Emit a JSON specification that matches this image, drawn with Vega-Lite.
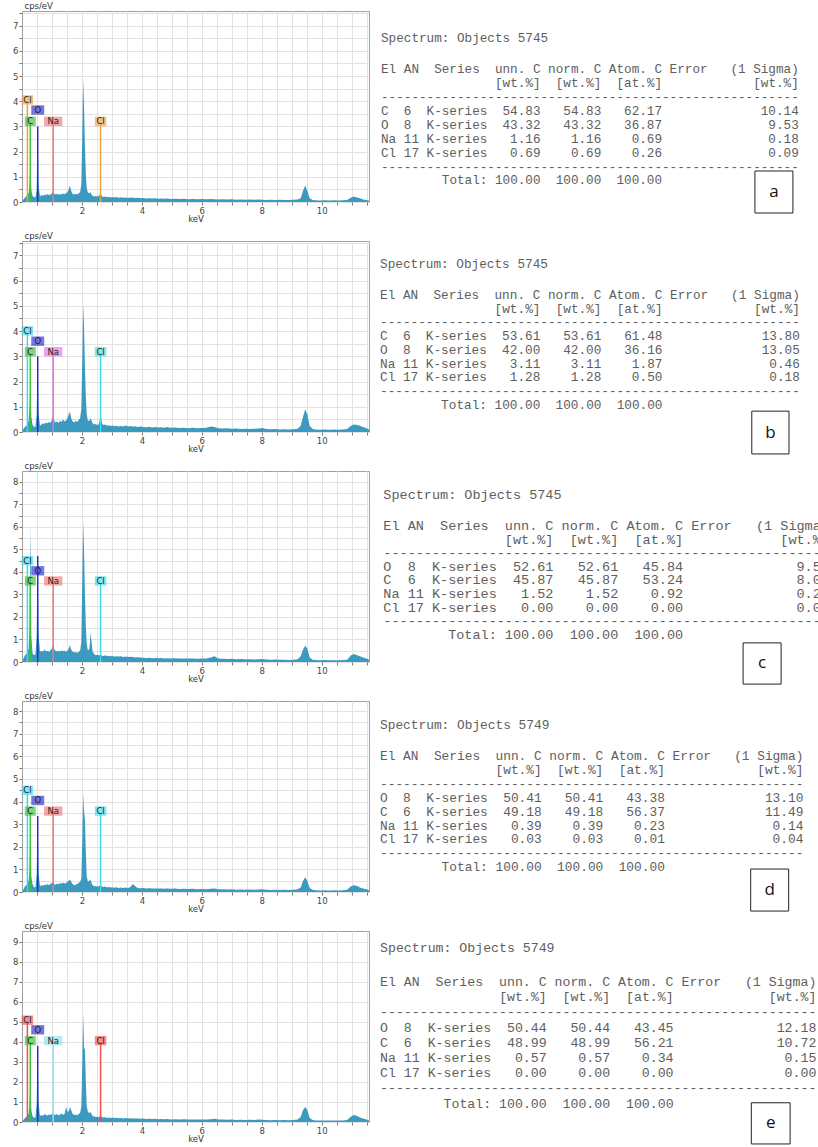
{
"$schema": "https://vega.github.io/schema/vega-lite/v6.json",
"background": "white",
"padding": {"left": 12, "top": 0, "right": 0, "bottom": 0},
"config": {"view": {"stroke": null}, "axis": {"labelOverlap": false}},
"bounds": "flush",
"spacing": 39,
"resolve": {"scale": {"color": "independent", "shape": "independent"}},
"datasets": {
"spec": [
{"k":0.02,"a":0.05,"b":0.05,"c":0.05,"d":0.05,"e":0.05},
{"k":0.06,"a":0.12,"b":0.15,"c":0.2,"d":0.15,"e":0.12},
{"k":0.10,"a":0.18,"b":0.2,"c":0.3,"d":0.25,"e":0.2},
{"k":0.14,"a":0.22,"b":0.25,"c":0.35,"d":0.3,"e":0.25},
{"k":0.18,"a":0.3,"b":0.3,"c":0.4,"d":0.35,"e":0.3},
{"k":0.22,"a":0.35,"b":0.45,"c":0.6,"d":0.5,"e":0.4},
{"k":0.25,"a":0.6,"b":0.9,"c":1.5,"d":0.9,"e":0.8},
{"k":0.28,"a":1.6,"b":2.0,"c":6.1,"d":3.2,"e":2.6},
{"k":0.31,"a":0.5,"b":0.6,"c":1.2,"d":0.7,"e":0.6},
{"k":0.35,"a":0.25,"b":0.3,"c":0.4,"d":0.35,"e":0.3},
{"k":0.40,"a":0.18,"b":0.2,"c":0.3,"d":0.2,"e":0.2},
{"k":0.45,"a":0.2,"b":0.22,"c":0.35,"d":0.22,"e":0.25},
{"k":0.49,"a":0.5,"b":0.7,"c":1.2,"d":0.8,"e":0.9},
{"k":0.52,"a":2.9,"b":3.0,"c":4.7,"d":3.35,"e":3.8},
{"k":0.55,"a":0.7,"b":0.8,"c":1.3,"d":0.9,"e":1.0},
{"k":0.60,"a":0.22,"b":0.25,"c":0.45,"d":0.25,"e":0.3},
{"k":0.65,"a":0.28,"b":0.3,"c":0.5,"d":0.3,"e":0.35},
{"k":0.70,"a":0.25,"b":0.35,"c":0.45,"d":0.28,"e":0.3},
{"k":0.75,"a":0.3,"b":0.32,"c":0.55,"d":0.33,"e":0.4},
{"k":0.80,"a":0.27,"b":0.38,"c":0.48,"d":0.3,"e":0.35},
{"k":0.85,"a":0.32,"b":0.35,"c":0.5,"d":0.35,"e":0.32},
{"k":0.90,"a":0.28,"b":0.4,"c":0.45,"d":0.3,"e":0.38},
{"k":0.95,"a":0.3,"b":0.36,"c":0.52,"d":0.36,"e":0.35},
{"k":1.00,"a":0.35,"b":0.5,"c":0.6,"d":0.4,"e":0.4},
{"k":1.04,"a":0.45,"b":0.65,"c":0.8,"d":0.45,"e":0.45},
{"k":1.08,"a":0.33,"b":0.45,"c":0.55,"d":0.35,"e":0.38},
{"k":1.12,"a":0.3,"b":0.38,"c":0.5,"d":0.32,"e":0.35},
{"k":1.17,"a":0.33,"b":0.42,"c":0.47,"d":0.38,"e":0.4},
{"k":1.22,"a":0.29,"b":0.36,"c":0.5,"d":0.34,"e":0.33},
{"k":1.27,"a":0.32,"b":0.45,"c":0.46,"d":0.4,"e":0.38},
{"k":1.32,"a":0.3,"b":0.4,"c":0.52,"d":0.36,"e":0.42},
{"k":1.37,"a":0.34,"b":0.5,"c":0.48,"d":0.42,"e":0.36},
{"k":1.42,"a":0.31,"b":0.42,"c":0.5,"d":0.38,"e":0.4},
{"k":1.47,"a":0.35,"b":0.46,"c":0.45,"d":0.4,"e":0.75},
{"k":1.52,"a":0.4,"b":0.55,"c":0.5,"d":0.45,"e":0.5},
{"k":1.56,"a":0.5,"b":0.7,"c":0.6,"d":0.5,"e":0.55},
{"k":1.60,"a":0.65,"b":0.8,"c":0.75,"d":0.55,"e":0.75},
{"k":1.64,"a":0.45,"b":0.55,"c":0.55,"d":0.45,"e":0.6},
{"k":1.69,"a":0.32,"b":0.42,"c":0.45,"d":0.35,"e":0.4},
{"k":1.74,"a":0.3,"b":0.38,"c":0.42,"d":0.3,"e":0.35},
{"k":1.79,"a":0.33,"b":0.45,"c":0.44,"d":0.33,"e":0.38},
{"k":1.84,"a":0.3,"b":0.4,"c":0.4,"d":0.35,"e":0.33},
{"k":1.89,"a":0.34,"b":0.48,"c":0.46,"d":0.4,"e":0.4},
{"k":1.94,"a":0.4,"b":0.55,"c":0.5,"d":0.45,"e":0.45},
{"k":1.98,"a":0.7,"b":0.9,"c":0.9,"d":0.6,"e":0.8},
{"k":2.01,"a":2.6,"b":2.8,"c":3.5,"d":2.2,"e":2.8},
{"k":2.04,"a":4.9,"b":5.05,"c":6.25,"d":4.35,"e":5.45},
{"k":2.07,"a":3.8,"b":4.2,"c":5.0,"d":3.6,"e":3.7},
{"k":2.10,"a":2.2,"b":2.6,"c":3.0,"d":3.2,"e":3.6},
{"k":2.13,"a":1.1,"b":1.4,"c":1.6,"d":1.8,"e":2.0},
{"k":2.16,"a":0.55,"b":0.7,"c":0.8,"d":0.7,"e":0.8},
{"k":2.20,"a":0.38,"b":0.45,"c":0.5,"d":0.45,"e":0.5},
{"k":2.25,"a":0.35,"b":0.45,"c":0.6,"d":0.5,"e":0.45},
{"k":2.29,"a":0.4,"b":0.55,"c":1.3,"d":0.55,"e":0.5},
{"k":2.32,"a":0.3,"b":0.45,"c":0.9,"d":0.4,"e":0.4},
{"k":2.36,"a":0.25,"b":0.35,"c":0.45,"d":0.3,"e":0.3},
{"k":2.41,"a":0.22,"b":0.3,"c":0.35,"d":0.25,"e":0.28},
{"k":2.46,"a":0.24,"b":0.32,"c":0.3,"d":0.27,"e":0.25},
{"k":2.51,"a":0.22,"b":0.28,"c":0.32,"d":0.24,"e":0.26},
{"k":2.56,"a":0.24,"b":0.3,"c":0.3,"d":0.25,"e":0.24},
{"k":2.60,"a":0.3,"b":0.5,"c":0.3,"d":0.28,"e":0.3},
{"k":2.63,"a":0.32,"b":0.65,"c":0.35,"d":0.3,"e":0.32},
{"k":2.67,"a":0.24,"b":0.35,"c":0.28,"d":0.24,"e":0.25},
{"k":2.72,"a":0.2,"b":0.28,"c":0.27,"d":0.22,"e":0.22},
{"k":2.78,"a":0.22,"b":0.3,"c":0.3,"d":0.24,"e":0.24},
{"k":2.84,"a":0.19,"b":0.25,"c":0.26,"d":0.2,"e":0.2},
{"k":2.90,"a":0.21,"b":0.27,"c":0.28,"d":0.22,"e":0.23},
{"k":2.96,"a":0.18,"b":0.24,"c":0.25,"d":0.2,"e":0.2},
{"k":3.02,"a":0.2,"b":0.26,"c":0.27,"d":0.21,"e":0.22},
{"k":3.08,"a":0.18,"b":0.23,"c":0.24,"d":0.19,"e":0.2},
{"k":3.15,"a":0.2,"b":0.25,"c":0.26,"d":0.21,"e":0.21},
{"k":3.22,"a":0.17,"b":0.22,"c":0.24,"d":0.18,"e":0.19},
{"k":3.30,"a":0.19,"b":0.24,"c":0.25,"d":0.2,"e":0.2},
{"k":3.38,"a":0.17,"b":0.22,"c":0.22,"d":0.18,"e":0.18},
{"k":3.46,"a":0.18,"b":0.26,"c":0.24,"d":0.2,"e":0.2},
{"k":3.54,"a":0.16,"b":0.22,"c":0.22,"d":0.18,"e":0.17},
{"k":3.62,"a":0.18,"b":0.24,"c":0.23,"d":0.22,"e":0.19},
{"k":3.70,"a":0.17,"b":0.21,"c":0.22,"d":0.35,"e":0.18},
{"k":3.78,"a":0.16,"b":0.23,"c":0.2,"d":0.25,"e":0.17},
{"k":3.86,"a":0.17,"b":0.2,"c":0.21,"d":0.18,"e":0.18},
{"k":3.95,"a":0.15,"b":0.22,"c":0.2,"d":0.17,"e":0.16},
{"k":4.05,"a":0.16,"b":0.2,"c":0.19,"d":0.18,"e":0.17},
{"k":4.15,"a":0.14,"b":0.19,"c":0.18,"d":0.16,"e":0.15},
{"k":4.25,"a":0.15,"b":0.21,"c":0.19,"d":0.17,"e":0.16},
{"k":4.35,"a":0.14,"b":0.18,"c":0.17,"d":0.15,"e":0.15},
{"k":4.45,"a":0.15,"b":0.2,"c":0.18,"d":0.16,"e":0.16},
{"k":4.55,"a":0.13,"b":0.18,"c":0.17,"d":0.15,"e":0.14},
{"k":4.65,"a":0.14,"b":0.19,"c":0.18,"d":0.16,"e":0.15},
{"k":4.75,"a":0.13,"b":0.17,"c":0.16,"d":0.14,"e":0.14},
{"k":4.85,"a":0.14,"b":0.2,"c":0.17,"d":0.15,"e":0.15},
{"k":4.95,"a":0.12,"b":0.17,"c":0.16,"d":0.14,"e":0.13},
{"k":5.10,"a":0.13,"b":0.18,"c":0.17,"d":0.15,"e":0.14},
{"k":5.25,"a":0.12,"b":0.16,"c":0.15,"d":0.13,"e":0.13},
{"k":5.40,"a":0.13,"b":0.17,"c":0.16,"d":0.14,"e":0.14},
{"k":5.55,"a":0.11,"b":0.15,"c":0.15,"d":0.13,"e":0.12},
{"k":5.70,"a":0.12,"b":0.17,"c":0.16,"d":0.14,"e":0.13},
{"k":5.85,"a":0.11,"b":0.15,"c":0.14,"d":0.12,"e":0.12},
{"k":6.00,"a":0.12,"b":0.16,"c":0.15,"d":0.13,"e":0.13},
{"k":6.15,"a":0.11,"b":0.17,"c":0.16,"d":0.12,"e":0.12},
{"k":6.30,"a":0.12,"b":0.22,"c":0.2,"d":0.14,"e":0.14},
{"k":6.42,"a":0.11,"b":0.2,"c":0.25,"d":0.15,"e":0.16},
{"k":6.55,"a":0.1,"b":0.15,"c":0.16,"d":0.12,"e":0.12},
{"k":6.70,"a":0.11,"b":0.14,"c":0.14,"d":0.12,"e":0.12},
{"k":6.85,"a":0.1,"b":0.15,"c":0.13,"d":0.11,"e":0.11},
{"k":7.00,"a":0.11,"b":0.13,"c":0.14,"d":0.12,"e":0.12},
{"k":7.15,"a":0.09,"b":0.14,"c":0.12,"d":0.1,"e":0.1},
{"k":7.30,"a":0.1,"b":0.12,"c":0.13,"d":0.11,"e":0.11},
{"k":7.45,"a":0.09,"b":0.13,"c":0.12,"d":0.1,"e":0.1},
{"k":7.60,"a":0.1,"b":0.12,"c":0.12,"d":0.11,"e":0.11},
{"k":7.75,"a":0.09,"b":0.13,"c":0.11,"d":0.1,"e":0.1},
{"k":7.90,"a":0.1,"b":0.14,"c":0.12,"d":0.11,"e":0.12},
{"k":8.02,"a":0.09,"b":0.16,"c":0.13,"d":0.12,"e":0.11},
{"k":8.15,"a":0.08,"b":0.12,"c":0.11,"d":0.1,"e":0.1},
{"k":8.30,"a":0.09,"b":0.11,"c":0.1,"d":0.09,"e":0.09},
{"k":8.45,"a":0.08,"b":0.12,"c":0.11,"d":0.1,"e":0.1},
{"k":8.60,"a":0.09,"b":0.1,"c":0.1,"d":0.09,"e":0.09},
{"k":8.75,"a":0.08,"b":0.11,"c":0.1,"d":0.1,"e":0.1},
{"k":8.90,"a":0.08,"b":0.1,"c":0.09,"d":0.09,"e":0.09},
{"k":9.05,"a":0.09,"b":0.11,"c":0.1,"d":0.1,"e":0.1},
{"k":9.20,"a":0.1,"b":0.13,"c":0.12,"d":0.12,"e":0.12},
{"k":9.30,"a":0.15,"b":0.25,"c":0.25,"d":0.2,"e":0.25},
{"k":9.38,"a":0.45,"b":0.6,"c":0.55,"d":0.5,"e":0.6},
{"k":9.45,"a":0.65,"b":0.9,"c":0.72,"d":0.65,"e":0.75},
{"k":9.52,"a":0.45,"b":0.7,"c":0.6,"d":0.5,"e":0.6},
{"k":9.60,"a":0.15,"b":0.25,"c":0.2,"d":0.18,"e":0.2},
{"k":9.70,"a":0.08,"b":0.12,"c":0.1,"d":0.1,"e":0.1},
{"k":9.80,"a":0.07,"b":0.1,"c":0.09,"d":0.08,"e":0.08},
{"k":9.95,"a":0.06,"b":0.09,"c":0.08,"d":0.07,"e":0.07},
{"k":10.10,"a":0.07,"b":0.1,"c":0.09,"d":0.08,"e":0.08},
{"k":10.25,"a":0.06,"b":0.09,"c":0.08,"d":0.07,"e":0.07},
{"k":10.40,"a":0.07,"b":0.1,"c":0.08,"d":0.08,"e":0.08},
{"k":10.55,"a":0.06,"b":0.09,"c":0.08,"d":0.07,"e":0.07},
{"k":10.70,"a":0.07,"b":0.1,"c":0.09,"d":0.08,"e":0.08},
{"k":10.85,"a":0.08,"b":0.12,"c":0.1,"d":0.1,"e":0.1},
{"k":10.98,"a":0.18,"b":0.25,"c":0.3,"d":0.25,"e":0.28},
{"k":11.08,"a":0.22,"b":0.3,"c":0.35,"d":0.3,"e":0.35},
{"k":11.18,"a":0.18,"b":0.28,"c":0.3,"d":0.27,"e":0.3},
{"k":11.28,"a":0.15,"b":0.25,"c":0.25,"d":0.2,"e":0.22},
{"k":11.38,"a":0.1,"b":0.2,"c":0.2,"d":0.15,"e":0.18},
{"k":11.50,"a":0.08,"b":0.15,"c":0.15,"d":0.12,"e":0.12},
{"k":11.58,"a":0.05,"b":0.1,"c":0.1,"d":0.08,"e":0.08}
],
"marks": [
{"p":"a","el":"Cl","k":0.18,"top":3.95,"ly":4.05},
{"p":"a","el":"C","k":0.277,"top":3.1,"ly":3.2},
{"p":"a","el":"O","k":0.525,"top":3.0,"ly":3.65},
{"p":"a","el":"Na","k":1.041,"top":3.1,"ly":3.2},
{"p":"a","el":"Cl","k":2.622,"top":3.1,"ly":3.2},
{"p":"b","el":"Cl","k":0.18,"top":3.9,"ly":4.01},
{"p":"b","el":"C","k":0.277,"top":3.08,"ly":3.18},
{"p":"b","el":"O","k":0.525,"top":3.0,"ly":3.6},
{"p":"b","el":"Na","k":1.041,"top":3.08,"ly":3.18},
{"p":"b","el":"Cl","k":2.622,"top":3.08,"ly":3.18},
{"p":"c","el":"Cl","k":0.18,"top":4.4,"ly":4.5},
{"p":"c","el":"C","k":0.277,"top":3.5,"ly":3.6},
{"p":"c","el":"O","k":0.525,"top":4.7,"ly":4.05},
{"p":"c","el":"Na","k":1.041,"top":3.5,"ly":3.6},
{"p":"c","el":"Cl","k":2.622,"top":3.5,"ly":3.6},
{"p":"d","el":"Cl","k":0.18,"top":4.4,"ly":4.5},
{"p":"d","el":"C","k":0.277,"top":3.48,"ly":3.58},
{"p":"d","el":"O","k":0.525,"top":3.36,"ly":4.05},
{"p":"d","el":"Na","k":1.041,"top":3.48,"ly":3.58},
{"p":"d","el":"Cl","k":2.622,"top":3.48,"ly":3.58},
{"p":"e","el":"Cl","k":0.18,"top":5.0,"ly":5.08},
{"p":"e","el":"C","k":0.277,"top":3.96,"ly":4.06},
{"p":"e","el":"O","k":0.525,"top":3.8,"ly":4.6},
{"p":"e","el":"Na","k":1.041,"top":3.96,"ly":4.06},
{"p":"e","el":"Cl","k":2.622,"top":3.96,"ly":4.06}
],
"hdr": [
{"line":2.25,"col":0,"s":"El AN  Series  unn. C norm. C Atom. C Error   (1 Sigma)"},
{"line":3.25,"col":15,"s":"[wt.%]  [wt.%]  [at.%]            [wt.%]"},
{"line":4.25,"col":0,"s":"-------------------------------------------------------"},
{"line":9.25,"col":0,"s":"-------------------------------------------------------"},
{"line":10.25,"col":8,"s":"Total: 100.00  100.00  100.00"}
],
"tab": [
{"p":"a","line":0,"s":"Spectrum: Objects 5745"},
{"p":"a","line":5.25,"el":"C","an":"6","v1":"54.83","v2":"54.83","v3":"62.17","err":"10.14"},
{"p":"a","line":6.25,"el":"O","an":"8","v1":"43.32","v2":"43.32","v3":"36.87","err":"9.53"},
{"p":"a","line":7.25,"el":"Na","an":"11","v1":"1.16","v2":"1.16","v3":"0.69","err":"0.18"},
{"p":"a","line":8.25,"el":"Cl","an":"17","v1":"0.69","v2":"0.69","v3":"0.26","err":"0.09"},
{"p":"b","line":0,"s":"Spectrum: Objects 5745"},
{"p":"b","line":5.25,"el":"C","an":"6","v1":"53.61","v2":"53.61","v3":"61.48","err":"13.80"},
{"p":"b","line":6.25,"el":"O","an":"8","v1":"42.00","v2":"42.00","v3":"36.16","err":"13.05"},
{"p":"b","line":7.25,"el":"Na","an":"11","v1":"3.11","v2":"3.11","v3":"1.87","err":"0.46"},
{"p":"b","line":8.25,"el":"Cl","an":"17","v1":"1.28","v2":"1.28","v3":"0.50","err":"0.18"},
{"p":"c","line":0,"s":"Spectrum: Objects 5745"},
{"p":"c","line":5.25,"el":"O","an":"8","v1":"52.61","v2":"52.61","v3":"45.84","err":"9.50"},
{"p":"c","line":6.25,"el":"C","an":"6","v1":"45.87","v2":"45.87","v3":"53.24","err":"8.03"},
{"p":"c","line":7.25,"el":"Na","an":"11","v1":"1.52","v2":"1.52","v3":"0.92","err":"0.20"},
{"p":"c","line":8.25,"el":"Cl","an":"17","v1":"0.00","v2":"0.00","v3":"0.00","err":"0.00"},
{"p":"d","line":0,"s":"Spectrum: Objects 5749"},
{"p":"d","line":5.25,"el":"O","an":"8","v1":"50.41","v2":"50.41","v3":"43.38","err":"13.10"},
{"p":"d","line":6.25,"el":"C","an":"6","v1":"49.18","v2":"49.18","v3":"56.37","err":"11.49"},
{"p":"d","line":7.25,"el":"Na","an":"11","v1":"0.39","v2":"0.39","v3":"0.23","err":"0.14"},
{"p":"d","line":8.25,"el":"Cl","an":"17","v1":"0.03","v2":"0.03","v3":"0.01","err":"0.04"},
{"p":"e","line":0,"s":"Spectrum: Objects 5749"},
{"p":"e","line":5.25,"el":"O","an":"8","v1":"50.44","v2":"50.44","v3":"43.45","err":"12.18"},
{"p":"e","line":6.25,"el":"C","an":"6","v1":"48.99","v2":"48.99","v3":"56.21","err":"10.72"},
{"p":"e","line":7.25,"el":"Na","an":"11","v1":"0.57","v2":"0.57","v3":"0.34","err":"0.15"},
{"p":"e","line":8.25,"el":"Cl","an":"17","v1":"0.00","v2":"0.00","v3":"0.00","err":"0.00"}
],
"box": [
{"p":"a","lab":"a","col":51.7,"line":11.08},
{"p":"b","lab":"b","col":51.1,"line":12.26},
{"p":"c","lab":"c","col":46.75,"line":12.36},
{"p":"d","lab":"d","col":50.6,"line":11.89},
{"p":"e","lab":"e","col":49.2,"line":11.55}
]
},
"vconcat": [
{"width": 347, "height": 191, "view": {"stroke": "#a0a0a0"},
 "resolve": {"scale": {"x": "independent", "y": "independent"}},
 "layer": [
  {"data": {"name": "spec"}, "mark": {"type": "point", "opacity": 0},
   "encoding": {
    "x": {"field": "k", "type": "quantitative", "scale": {"domain": [0, 11.58], "nice": false, "zero": false},
     "axis": {"orient": "bottom", "values": [0.5,1,1.5,2,2.5,3,3.5,4,4.5,5,5.5,6,6.5,7,7.5,8,8.5,9,9.5,10,10.5,11,11.5], "tickCount": 24, "labelExpr": "(datum.value % 2 == 0 && datum.value > 0) ? format(datum.value, 'd') : ''", "labelOverlap": false, "labelFlush": false, "title": "keV", "titleFont": "DejaVu Sans", "titleFontSize": 8.5, "titleFontWeight": "normal", "titleColor": "#333", "titlePadding": 0, "labelFont": "DejaVu Sans", "labelFontSize": 8.5, "labelColor": "#444", "labelPadding": 1, "tickColor": "#777", "tickSize": 3, "domain": false, "grid": true, "gridColor": "#e2e2e2"}},
    "y": {"field": "a", "type": "quantitative", "scale": {"domain": [0, 7.58], "nice": false, "zero": false},
     "axis": {"orient": "left", "values": [0,0.5,1,1.5,2,2.5,3,3.5,4,4.5,5,5.5,6,6.5,7,7.5], "tickCount": 16, "labelExpr": "datum.value % 1 == 0 ? format(datum.value, 'd') : ''", "labelOverlap": false, "labelFlush": false, "title": "cps/eV", "titleAngle": 0, "titleAlign": "left", "titleBaseline": "bottom", "titleX": 2, "titleY": -1, "titleFont": "DejaVu Sans", "titleFontSize": 8.5, "titleFontWeight": "normal", "titleColor": "#333", "labelFont": "DejaVu Sans", "labelFontSize": 8.5, "labelColor": "#444", "labelPadding": 1, "tickColor": "#777", "tickSize": 3, "domain": false, "grid": true, "gridColor": "#e2e2e2"}}
   }},
  {"layer": [
   {"data": {"name": "spec"}, "mark": {"type": "area", "color": "#3b9ac0"},
    "encoding": {
     "x": {"field": "k", "type": "quantitative", "scale": {"domain": [0, 11.58], "nice": false, "zero": false}, "axis": null},
     "y": {"field": "a", "type": "quantitative", "scale": {"domain": [0, 7.58], "nice": false, "zero": false}, "axis": null}}},
   {"data": {"name": "marks"}, "transform": [{"filter": "datum.p == 'a'"}], "mark": {"type": "rule", "strokeWidth": 1.5},
    "encoding": {"x": {"field": "k", "type": "quantitative", "axis": null}, "y": {"field": "top", "type": "quantitative", "axis": null}, "y2": {"datum": 0},
     "color": {"field": "el", "type": "nominal", "scale": {"domain": ["C","O","Na","Cl"], "range": ["#3cc03c","#2b2bd0","#f07878","#f0a040"]}, "legend": null}}},
   {"data": {"name": "marks"}, "transform": [{"filter": "datum.p == 'a'"}], "mark": {"type": "point", "filled": true, "size": 121, "opacity": 0.65},
    "encoding": {"x": {"field": "k", "type": "quantitative", "axis": null}, "y": {"field": "ly", "type": "quantitative", "axis": null},
     "color": {"field": "el", "type": "nominal", "legend": null},
     "shape": {"field": "el", "type": "nominal", "scale": {"domain": ["C","O","Na","Cl"], "range": ["M-1,-0.85H1V0.85H-1Z","M-1.18,-0.85H1.18V0.85H-1.18Z","M-1.66,-0.85H1.66V0.85H-1.66Z","M-1.05,-0.85H1.05V0.85H-1.05Z"]}, "legend": null}}},
   {"data": {"name": "marks"}, "transform": [{"filter": "datum.p == 'a'"}], "mark": {"type": "text", "font": "DejaVu Sans", "fontSize": 8.5, "color": "#222"},
    "encoding": {"x": {"field": "k", "type": "quantitative", "axis": null}, "y": {"field": "ly", "type": "quantitative", "axis": null}, "text": {"field": "el"}}}
  ]},
  {"layer": [
   {"data": {"name": "hdr"}, "transform": [{"calculate": "replace(datum.s, regexp(' ', 'g'), '\u00a0')", "as": "t"}],
    "mark": {"type": "text", "font": "Liberation Mono", "fontSize": 12.67, "align": "left", "baseline": "middle", "color": "#5e5e5e"},
    "encoding": {"x": {"field": "col", "type": "quantitative", "scale": {"domain": [-47.24, -1.58], "nice": false, "zero": false}, "axis": null},
     "y": {"field": "line", "type": "quantitative", "scale": {"domain": [-1.94, 11.8], "reverse": true, "nice": false, "zero": false}, "axis": null},
     "text": {"field": "t"}}},
   {"data": {"name": "tab"}, "transform": [{"filter": "datum.p == 'a'"}, {"calculate": "replace(datum.s ? datum.s : pad(datum.el,3) + pad(datum.an,3) + 'K-series' + pad(datum.v1,7,' ','left') + pad(datum.v2,8,' ','left') + pad(datum.v3,8,' ','left') + pad(datum.err,18,' ','left'), regexp(' ', 'g'), '\u00a0')", "as": "t"}],
    "mark": {"type": "text", "font": "Liberation Mono", "fontSize": 12.67, "align": "left", "baseline": "middle", "color": "#5e5e5e"},
    "encoding": {"x": {"datum": 0, "type": "quantitative", "axis": null}, "y": {"field": "line", "type": "quantitative", "axis": null}, "text": {"field": "t"}}},
   {"data": {"name": "box"}, "transform": [{"filter": "datum.p == 'a'"}],
    "mark": {"type": "point", "shape": "M-0.95,-1.05H0.95V1.05H-0.95Z", "size": 1600, "filled": true, "fill": "white", "stroke": "#222", "strokeWidth": 1, "opacity": 1},
    "encoding": {"x": {"field": "col", "type": "quantitative", "axis": null}, "y": {"field": "line", "type": "quantitative", "axis": null}}},
   {"data": {"name": "box"}, "transform": [{"filter": "datum.p == 'a'"}],
    "mark": {"type": "text", "font": "Open Sans", "fontSize": 17, "color": "#111", "baseline": "middle", "align": "center"},
    "encoding": {"x": {"field": "col", "type": "quantitative", "axis": null}, "y": {"field": "line", "type": "quantitative", "axis": null}, "text": {"field": "lab"}}}
  ]}
 ]},
{"width": 347, "height": 191, "view": {"stroke": "#a0a0a0"},
 "resolve": {"scale": {"x": "independent", "y": "independent"}},
 "layer": [
  {"data": {"name": "spec"}, "mark": {"type": "point", "opacity": 0},
   "encoding": {
    "x": {"field": "k", "type": "quantitative", "scale": {"domain": [0, 11.58], "nice": false, "zero": false},
     "axis": {"orient": "bottom", "values": [0.5,1,1.5,2,2.5,3,3.5,4,4.5,5,5.5,6,6.5,7,7.5,8,8.5,9,9.5,10,10.5,11,11.5], "tickCount": 24, "labelExpr": "(datum.value % 2 == 0 && datum.value > 0) ? format(datum.value, 'd') : ''", "labelOverlap": false, "labelFlush": false, "title": "keV", "titleFont": "DejaVu Sans", "titleFontSize": 8.5, "titleFontWeight": "normal", "titleColor": "#333", "titlePadding": 0, "labelFont": "DejaVu Sans", "labelFontSize": 8.5, "labelColor": "#444", "labelPadding": 1, "tickColor": "#777", "tickSize": 3, "domain": false, "grid": true, "gridColor": "#e2e2e2"}},
    "y": {"field": "b", "type": "quantitative", "scale": {"domain": [0, 7.57], "nice": false, "zero": false},
     "axis": {"orient": "left", "values": [0,0.5,1,1.5,2,2.5,3,3.5,4,4.5,5,5.5,6,6.5,7,7.5], "tickCount": 16, "labelExpr": "datum.value % 1 == 0 ? format(datum.value, 'd') : ''", "labelOverlap": false, "labelFlush": false, "title": "cps/eV", "titleAngle": 0, "titleAlign": "left", "titleBaseline": "bottom", "titleX": 2, "titleY": -1, "titleFont": "DejaVu Sans", "titleFontSize": 8.5, "titleFontWeight": "normal", "titleColor": "#333", "labelFont": "DejaVu Sans", "labelFontSize": 8.5, "labelColor": "#444", "labelPadding": 1, "tickColor": "#777", "tickSize": 3, "domain": false, "grid": true, "gridColor": "#e2e2e2"}}
   }},
  {"layer": [
   {"data": {"name": "spec"}, "mark": {"type": "area", "color": "#3b9ac0"},
    "encoding": {
     "x": {"field": "k", "type": "quantitative", "scale": {"domain": [0, 11.58], "nice": false, "zero": false}, "axis": null},
     "y": {"field": "b", "type": "quantitative", "scale": {"domain": [0, 7.57], "nice": false, "zero": false}, "axis": null}}},
   {"data": {"name": "marks"}, "transform": [{"filter": "datum.p == 'b'"}], "mark": {"type": "rule", "strokeWidth": 1.5},
    "encoding": {"x": {"field": "k", "type": "quantitative", "axis": null}, "y": {"field": "top", "type": "quantitative", "axis": null}, "y2": {"datum": 0},
     "color": {"field": "el", "type": "nominal", "scale": {"domain": ["C","O","Na","Cl"], "range": ["#3cc03c","#2b2bd0","#e070e0","#40d8e8"]}, "legend": null}}},
   {"data": {"name": "marks"}, "transform": [{"filter": "datum.p == 'b'"}], "mark": {"type": "point", "filled": true, "size": 121, "opacity": 0.65},
    "encoding": {"x": {"field": "k", "type": "quantitative", "axis": null}, "y": {"field": "ly", "type": "quantitative", "axis": null},
     "color": {"field": "el", "type": "nominal", "legend": null},
     "shape": {"field": "el", "type": "nominal", "scale": {"domain": ["C","O","Na","Cl"], "range": ["M-1,-0.85H1V0.85H-1Z","M-1.18,-0.85H1.18V0.85H-1.18Z","M-1.66,-0.85H1.66V0.85H-1.66Z","M-1.05,-0.85H1.05V0.85H-1.05Z"]}, "legend": null}}},
   {"data": {"name": "marks"}, "transform": [{"filter": "datum.p == 'b'"}], "mark": {"type": "text", "font": "DejaVu Sans", "fontSize": 8.5, "color": "#222"},
    "encoding": {"x": {"field": "k", "type": "quantitative", "axis": null}, "y": {"field": "ly", "type": "quantitative", "axis": null}, "text": {"field": "el"}}}
  ]},
  {"layer": [
   {"data": {"name": "hdr"}, "transform": [{"calculate": "replace(datum.s, regexp(' ', 'g'), '\u00a0')", "as": "t"}],
    "mark": {"type": "text", "font": "Liberation Mono", "fontSize": 12.73, "align": "left", "baseline": "middle", "color": "#5e5e5e"},
    "encoding": {"x": {"field": "col", "type": "quantitative", "scale": {"domain": [-46.86, -1.44], "nice": false, "zero": false}, "axis": null},
     "y": {"field": "line", "type": "quantitative", "scale": {"domain": [-1.67, 12.22], "reverse": true, "nice": false, "zero": false}, "axis": null},
     "text": {"field": "t"}}},
   {"data": {"name": "tab"}, "transform": [{"filter": "datum.p == 'b'"}, {"calculate": "replace(datum.s ? datum.s : pad(datum.el,3) + pad(datum.an,3) + 'K-series' + pad(datum.v1,7,' ','left') + pad(datum.v2,8,' ','left') + pad(datum.v3,8,' ','left') + pad(datum.err,18,' ','left'), regexp(' ', 'g'), '\u00a0')", "as": "t"}],
    "mark": {"type": "text", "font": "Liberation Mono", "fontSize": 12.73, "align": "left", "baseline": "middle", "color": "#5e5e5e"},
    "encoding": {"x": {"datum": 0, "type": "quantitative", "axis": null}, "y": {"field": "line", "type": "quantitative", "axis": null}, "text": {"field": "t"}}},
   {"data": {"name": "box"}, "transform": [{"filter": "datum.p == 'b'"}],
    "mark": {"type": "point", "shape": "M-0.93,-1.07H0.93V1.07H-0.93Z", "size": 1600, "filled": true, "fill": "white", "stroke": "#222", "strokeWidth": 1, "opacity": 1},
    "encoding": {"x": {"field": "col", "type": "quantitative", "axis": null}, "y": {"field": "line", "type": "quantitative", "axis": null}}},
   {"data": {"name": "box"}, "transform": [{"filter": "datum.p == 'b'"}],
    "mark": {"type": "text", "font": "Open Sans", "fontSize": 17, "color": "#111", "baseline": "middle", "align": "center"},
    "encoding": {"x": {"field": "col", "type": "quantitative", "axis": null}, "y": {"field": "line", "type": "quantitative", "axis": null}, "text": {"field": "lab"}}}
  ]}
 ]},
{"width": 347, "height": 191, "view": {"stroke": "#a0a0a0"},
 "resolve": {"scale": {"x": "independent", "y": "independent"}},
 "layer": [
  {"data": {"name": "spec"}, "mark": {"type": "point", "opacity": 0},
   "encoding": {
    "x": {"field": "k", "type": "quantitative", "scale": {"domain": [0, 11.58], "nice": false, "zero": false},
     "axis": {"orient": "bottom", "values": [0.5,1,1.5,2,2.5,3,3.5,4,4.5,5,5.5,6,6.5,7,7.5,8,8.5,9,9.5,10,10.5,11,11.5], "tickCount": 24, "labelExpr": "(datum.value % 2 == 0 && datum.value > 0) ? format(datum.value, 'd') : ''", "labelOverlap": false, "labelFlush": false, "title": "keV", "titleFont": "DejaVu Sans", "titleFontSize": 8.5, "titleFontWeight": "normal", "titleColor": "#333", "titlePadding": 0, "labelFont": "DejaVu Sans", "labelFontSize": 8.5, "labelColor": "#444", "labelPadding": 1, "tickColor": "#777", "tickSize": 3, "domain": false, "grid": true, "gridColor": "#e2e2e2"}},
    "y": {"field": "c", "type": "quantitative", "scale": {"domain": [0, 8.48], "nice": false, "zero": false},
     "axis": {"orient": "left", "values": [0,0.5,1,1.5,2,2.5,3,3.5,4,4.5,5,5.5,6,6.5,7,7.5,8], "tickCount": 17, "labelExpr": "datum.value % 1 == 0 ? format(datum.value, 'd') : ''", "labelOverlap": false, "labelFlush": false, "title": "cps/eV", "titleAngle": 0, "titleAlign": "left", "titleBaseline": "bottom", "titleX": 2, "titleY": -1, "titleFont": "DejaVu Sans", "titleFontSize": 8.5, "titleFontWeight": "normal", "titleColor": "#333", "labelFont": "DejaVu Sans", "labelFontSize": 8.5, "labelColor": "#444", "labelPadding": 1, "tickColor": "#777", "tickSize": 3, "domain": false, "grid": true, "gridColor": "#e2e2e2"}}
   }},
  {"layer": [
   {"data": {"name": "spec"}, "mark": {"type": "area", "color": "#3b9ac0"},
    "encoding": {
     "x": {"field": "k", "type": "quantitative", "scale": {"domain": [0, 11.58], "nice": false, "zero": false}, "axis": null},
     "y": {"field": "c", "type": "quantitative", "scale": {"domain": [0, 8.48], "nice": false, "zero": false}, "axis": null}}},
   {"data": {"name": "marks"}, "transform": [{"filter": "datum.p == 'c'"}], "mark": {"type": "rule", "strokeWidth": 1.5},
    "encoding": {"x": {"field": "k", "type": "quantitative", "axis": null}, "y": {"field": "top", "type": "quantitative", "axis": null}, "y2": {"datum": 0},
     "color": {"field": "el", "type": "nominal", "scale": {"domain": ["C","O","Na","Cl"], "range": ["#3cc03c","#2b2bd0","#f07878","#40d8e8"]}, "legend": null}}},
   {"data": {"name": "marks"}, "transform": [{"filter": "datum.p == 'c'"}], "mark": {"type": "point", "filled": true, "size": 121, "opacity": 0.65},
    "encoding": {"x": {"field": "k", "type": "quantitative", "axis": null}, "y": {"field": "ly", "type": "quantitative", "axis": null},
     "color": {"field": "el", "type": "nominal", "legend": null},
     "shape": {"field": "el", "type": "nominal", "scale": {"domain": ["C","O","Na","Cl"], "range": ["M-1,-0.85H1V0.85H-1Z","M-1.18,-0.85H1.18V0.85H-1.18Z","M-1.66,-0.85H1.66V0.85H-1.66Z","M-1.05,-0.85H1.05V0.85H-1.05Z"]}, "legend": null}}},
   {"data": {"name": "marks"}, "transform": [{"filter": "datum.p == 'c'"}], "mark": {"type": "text", "font": "DejaVu Sans", "fontSize": 8.5, "color": "#222"},
    "encoding": {"x": {"field": "k", "type": "quantitative", "axis": null}, "y": {"field": "ly", "type": "quantitative", "axis": null}, "text": {"field": "el"}}}
  ]},
  {"layer": [
   {"data": {"name": "hdr"}, "transform": [{"calculate": "replace(datum.s, regexp(' ', 'g'), '\u00a0')", "as": "t"}],
    "mark": {"type": "text", "font": "Liberation Mono", "fontSize": 13.5, "align": "left", "baseline": "middle", "color": "#5e5e5e"},
    "encoding": {"x": {"field": "col", "type": "quantitative", "scale": {"domain": [-44.6, -1.77], "nice": false, "zero": false}, "axis": null},
     "y": {"field": "line", "type": "quantitative", "scale": {"domain": [-1.79, 12.25], "reverse": true, "nice": false, "zero": false}, "axis": null},
     "text": {"field": "t"}}},
   {"data": {"name": "tab"}, "transform": [{"filter": "datum.p == 'c'"}, {"calculate": "replace(datum.s ? datum.s : pad(datum.el,3) + pad(datum.an,3) + 'K-series' + pad(datum.v1,7,' ','left') + pad(datum.v2,8,' ','left') + pad(datum.v3,8,' ','left') + pad(datum.err,18,' ','left'), regexp(' ', 'g'), '\u00a0')", "as": "t"}],
    "mark": {"type": "text", "font": "Liberation Mono", "fontSize": 13.5, "align": "left", "baseline": "middle", "color": "#5e5e5e"},
    "encoding": {"x": {"datum": 0, "type": "quantitative", "axis": null}, "y": {"field": "line", "type": "quantitative", "axis": null}, "text": {"field": "t"}}},
   {"data": {"name": "box"}, "transform": [{"filter": "datum.p == 'c'"}],
    "mark": {"type": "point", "shape": "M-0.95,-1.03H0.95V1.03H-0.95Z", "size": 1600, "filled": true, "fill": "white", "stroke": "#222", "strokeWidth": 1, "opacity": 1},
    "encoding": {"x": {"field": "col", "type": "quantitative", "axis": null}, "y": {"field": "line", "type": "quantitative", "axis": null}}},
   {"data": {"name": "box"}, "transform": [{"filter": "datum.p == 'c'"}],
    "mark": {"type": "text", "font": "Open Sans", "fontSize": 17, "color": "#111", "baseline": "middle", "align": "center"},
    "encoding": {"x": {"field": "col", "type": "quantitative", "axis": null}, "y": {"field": "line", "type": "quantitative", "axis": null}, "text": {"field": "lab"}}}
  ]}
 ]},
{"width": 347, "height": 191, "view": {"stroke": "#a0a0a0"},
 "resolve": {"scale": {"x": "independent", "y": "independent"}},
 "layer": [
  {"data": {"name": "spec"}, "mark": {"type": "point", "opacity": 0},
   "encoding": {
    "x": {"field": "k", "type": "quantitative", "scale": {"domain": [0, 11.58], "nice": false, "zero": false},
     "axis": {"orient": "bottom", "values": [0.5,1,1.5,2,2.5,3,3.5,4,4.5,5,5.5,6,6.5,7,7.5,8,8.5,9,9.5,10,10.5,11,11.5], "tickCount": 24, "labelExpr": "(datum.value % 2 == 0 && datum.value > 0) ? format(datum.value, 'd') : ''", "labelOverlap": false, "labelFlush": false, "title": "keV", "titleFont": "DejaVu Sans", "titleFontSize": 8.5, "titleFontWeight": "normal", "titleColor": "#333", "titlePadding": 0, "labelFont": "DejaVu Sans", "labelFontSize": 8.5, "labelColor": "#444", "labelPadding": 1, "tickColor": "#777", "tickSize": 3, "domain": false, "grid": true, "gridColor": "#e2e2e2"}},
    "y": {"field": "d", "type": "quantitative", "scale": {"domain": [0, 8.45], "nice": false, "zero": false},
     "axis": {"orient": "left", "values": [0,0.5,1,1.5,2,2.5,3,3.5,4,4.5,5,5.5,6,6.5,7,7.5,8], "tickCount": 17, "labelExpr": "datum.value % 1 == 0 ? format(datum.value, 'd') : ''", "labelOverlap": false, "labelFlush": false, "title": "cps/eV", "titleAngle": 0, "titleAlign": "left", "titleBaseline": "bottom", "titleX": 2, "titleY": -1, "titleFont": "DejaVu Sans", "titleFontSize": 8.5, "titleFontWeight": "normal", "titleColor": "#333", "labelFont": "DejaVu Sans", "labelFontSize": 8.5, "labelColor": "#444", "labelPadding": 1, "tickColor": "#777", "tickSize": 3, "domain": false, "grid": true, "gridColor": "#e2e2e2"}}
   }},
  {"layer": [
   {"data": {"name": "spec"}, "mark": {"type": "area", "color": "#3b9ac0"},
    "encoding": {
     "x": {"field": "k", "type": "quantitative", "scale": {"domain": [0, 11.58], "nice": false, "zero": false}, "axis": null},
     "y": {"field": "d", "type": "quantitative", "scale": {"domain": [0, 8.45], "nice": false, "zero": false}, "axis": null}}},
   {"data": {"name": "marks"}, "transform": [{"filter": "datum.p == 'd'"}], "mark": {"type": "rule", "strokeWidth": 1.5},
    "encoding": {"x": {"field": "k", "type": "quantitative", "axis": null}, "y": {"field": "top", "type": "quantitative", "axis": null}, "y2": {"datum": 0},
     "color": {"field": "el", "type": "nominal", "scale": {"domain": ["C","O","Na","Cl"], "range": ["#3cc03c","#2b2bd0","#f07878","#40d8e8"]}, "legend": null}}},
   {"data": {"name": "marks"}, "transform": [{"filter": "datum.p == 'd'"}], "mark": {"type": "point", "filled": true, "size": 121, "opacity": 0.65},
    "encoding": {"x": {"field": "k", "type": "quantitative", "axis": null}, "y": {"field": "ly", "type": "quantitative", "axis": null},
     "color": {"field": "el", "type": "nominal", "legend": null},
     "shape": {"field": "el", "type": "nominal", "scale": {"domain": ["C","O","Na","Cl"], "range": ["M-1,-0.85H1V0.85H-1Z","M-1.18,-0.85H1.18V0.85H-1.18Z","M-1.66,-0.85H1.66V0.85H-1.66Z","M-1.05,-0.85H1.05V0.85H-1.05Z"]}, "legend": null}}},
   {"data": {"name": "marks"}, "transform": [{"filter": "datum.p == 'd'"}], "mark": {"type": "text", "font": "DejaVu Sans", "fontSize": 8.5, "color": "#222"},
    "encoding": {"x": {"field": "k", "type": "quantitative", "axis": null}, "y": {"field": "ly", "type": "quantitative", "axis": null}, "text": {"field": "el"}}}
  ]},
  {"layer": [
   {"data": {"name": "hdr"}, "transform": [{"calculate": "replace(datum.s, regexp(' ', 'g'), '\u00a0')", "as": "t"}],
    "mark": {"type": "text", "font": "Liberation Mono", "fontSize": 12.83, "align": "left", "baseline": "middle", "color": "#5e5e5e"},
    "encoding": {"x": {"field": "col", "type": "quantitative", "scale": {"domain": [-46.49, -1.43], "nice": false, "zero": false}, "axis": null},
     "y": {"field": "line", "type": "quantitative", "scale": {"domain": [-1.71, 12.03], "reverse": true, "nice": false, "zero": false}, "axis": null},
     "text": {"field": "t"}}},
   {"data": {"name": "tab"}, "transform": [{"filter": "datum.p == 'd'"}, {"calculate": "replace(datum.s ? datum.s : pad(datum.el,3) + pad(datum.an,3) + 'K-series' + pad(datum.v1,7,' ','left') + pad(datum.v2,8,' ','left') + pad(datum.v3,8,' ','left') + pad(datum.err,18,' ','left'), regexp(' ', 'g'), '\u00a0')", "as": "t"}],
    "mark": {"type": "text", "font": "Liberation Mono", "fontSize": 12.83, "align": "left", "baseline": "middle", "color": "#5e5e5e"},
    "encoding": {"x": {"datum": 0, "type": "quantitative", "axis": null}, "y": {"field": "line", "type": "quantitative", "axis": null}, "text": {"field": "t"}}},
   {"data": {"name": "box"}, "transform": [{"filter": "datum.p == 'd'"}],
    "mark": {"type": "point", "shape": "M-0.95,-1.05H0.95V1.05H-0.95Z", "size": 1600, "filled": true, "fill": "white", "stroke": "#222", "strokeWidth": 1, "opacity": 1},
    "encoding": {"x": {"field": "col", "type": "quantitative", "axis": null}, "y": {"field": "line", "type": "quantitative", "axis": null}}},
   {"data": {"name": "box"}, "transform": [{"filter": "datum.p == 'd'"}],
    "mark": {"type": "text", "font": "Open Sans", "fontSize": 17, "color": "#111", "baseline": "middle", "align": "center"},
    "encoding": {"x": {"field": "col", "type": "quantitative", "axis": null}, "y": {"field": "line", "type": "quantitative", "axis": null}, "text": {"field": "lab"}}}
  ]}
 ]},
{"width": 347, "height": 191, "view": {"stroke": "#a0a0a0"},
 "resolve": {"scale": {"x": "independent", "y": "independent"}},
 "layer": [
  {"data": {"name": "spec"}, "mark": {"type": "point", "opacity": 0},
   "encoding": {
    "x": {"field": "k", "type": "quantitative", "scale": {"domain": [0, 11.58], "nice": false, "zero": false},
     "axis": {"orient": "bottom", "values": [0.5,1,1.5,2,2.5,3,3.5,4,4.5,5,5.5,6,6.5,7,7.5,8,8.5,9,9.5,10,10.5,11,11.5], "tickCount": 24, "labelExpr": "(datum.value % 2 == 0 && datum.value > 0) ? format(datum.value, 'd') : ''", "labelOverlap": false, "labelFlush": false, "title": "keV", "titleFont": "DejaVu Sans", "titleFontSize": 8.5, "titleFontWeight": "normal", "titleColor": "#333", "titlePadding": 0, "labelFont": "DejaVu Sans", "labelFontSize": 8.5, "labelColor": "#444", "labelPadding": 1, "tickColor": "#777", "tickSize": 3, "domain": false, "grid": true, "gridColor": "#e2e2e2"}},
    "y": {"field": "e", "type": "quantitative", "scale": {"domain": [0, 9.53], "nice": false, "zero": false},
     "axis": {"orient": "left", "values": [0,0.5,1,1.5,2,2.5,3,3.5,4,4.5,5,5.5,6,6.5,7,7.5,8,8.5,9,9.5], "tickCount": 19, "labelExpr": "datum.value % 1 == 0 ? format(datum.value, 'd') : ''", "labelOverlap": false, "labelFlush": false, "title": "cps/eV", "titleAngle": 0, "titleAlign": "left", "titleBaseline": "bottom", "titleX": 2, "titleY": -1, "titleFont": "DejaVu Sans", "titleFontSize": 8.5, "titleFontWeight": "normal", "titleColor": "#333", "labelFont": "DejaVu Sans", "labelFontSize": 8.5, "labelColor": "#444", "labelPadding": 1, "tickColor": "#777", "tickSize": 3, "domain": false, "grid": true, "gridColor": "#e2e2e2"}}
   }},
  {"layer": [
   {"data": {"name": "spec"}, "mark": {"type": "area", "color": "#3b9ac0"},
    "encoding": {
     "x": {"field": "k", "type": "quantitative", "scale": {"domain": [0, 11.58], "nice": false, "zero": false}, "axis": null},
     "y": {"field": "e", "type": "quantitative", "scale": {"domain": [0, 9.53], "nice": false, "zero": false}, "axis": null}}},
   {"data": {"name": "marks"}, "transform": [{"filter": "datum.p == 'e'"}], "mark": {"type": "rule", "strokeWidth": 1.5},
    "encoding": {"x": {"field": "k", "type": "quantitative", "axis": null}, "y": {"field": "top", "type": "quantitative", "axis": null}, "y2": {"datum": 0},
     "color": {"field": "el", "type": "nominal", "scale": {"domain": ["C","O","Na","Cl"], "range": ["#3cc03c","#2b2bd0","#8fe3ee","#f05050"]}, "legend": null}}},
   {"data": {"name": "marks"}, "transform": [{"filter": "datum.p == 'e'"}], "mark": {"type": "point", "filled": true, "size": 121, "opacity": 0.65},
    "encoding": {"x": {"field": "k", "type": "quantitative", "axis": null}, "y": {"field": "ly", "type": "quantitative", "axis": null},
     "color": {"field": "el", "type": "nominal", "legend": null},
     "shape": {"field": "el", "type": "nominal", "scale": {"domain": ["C","O","Na","Cl"], "range": ["M-1,-0.85H1V0.85H-1Z","M-1.18,-0.85H1.18V0.85H-1.18Z","M-1.66,-0.85H1.66V0.85H-1.66Z","M-1.05,-0.85H1.05V0.85H-1.05Z"]}, "legend": null}}},
   {"data": {"name": "marks"}, "transform": [{"filter": "datum.p == 'e'"}], "mark": {"type": "text", "font": "DejaVu Sans", "fontSize": 8.5, "color": "#222"},
    "encoding": {"x": {"field": "k", "type": "quantitative", "axis": null}, "y": {"field": "ly", "type": "quantitative", "axis": null}, "text": {"field": "el"}}}
  ]},
  {"layer": [
   {"data": {"name": "hdr"}, "transform": [{"calculate": "replace(datum.s, regexp(' ', 'g'), '\u00a0')", "as": "t"}],
    "mark": {"type": "text", "font": "Liberation Mono", "fontSize": 13.23, "align": "left", "baseline": "middle", "color": "#5e5e5e"},
    "encoding": {"x": {"field": "col", "type": "quantitative", "scale": {"domain": [-45.09, -1.39], "nice": false, "zero": false}, "axis": null},
     "y": {"field": "line", "type": "quantitative", "scale": {"domain": [-1.11, 11.46], "reverse": true, "nice": false, "zero": false}, "axis": null},
     "text": {"field": "t"}}},
   {"data": {"name": "tab"}, "transform": [{"filter": "datum.p == 'e'"}, {"calculate": "replace(datum.s ? datum.s : pad(datum.el,3) + pad(datum.an,3) + 'K-series' + pad(datum.v1,7,' ','left') + pad(datum.v2,8,' ','left') + pad(datum.v3,8,' ','left') + pad(datum.err,18,' ','left'), regexp(' ', 'g'), '\u00a0')", "as": "t"}],
    "mark": {"type": "text", "font": "Liberation Mono", "fontSize": 13.23, "align": "left", "baseline": "middle", "color": "#5e5e5e"},
    "encoding": {"x": {"datum": 0, "type": "quantitative", "axis": null}, "y": {"field": "line", "type": "quantitative", "axis": null}, "text": {"field": "t"}}},
   {"data": {"name": "box"}, "transform": [{"filter": "datum.p == 'e'"}],
    "mark": {"type": "point", "shape": "M-0.97,-1.03H0.97V1.03H-0.97Z", "size": 1600, "filled": true, "fill": "white", "stroke": "#222", "strokeWidth": 1, "opacity": 1},
    "encoding": {"x": {"field": "col", "type": "quantitative", "axis": null}, "y": {"field": "line", "type": "quantitative", "axis": null}}},
   {"data": {"name": "box"}, "transform": [{"filter": "datum.p == 'e'"}],
    "mark": {"type": "text", "font": "Open Sans", "fontSize": 17, "color": "#111", "baseline": "middle", "align": "center"},
    "encoding": {"x": {"field": "col", "type": "quantitative", "axis": null}, "y": {"field": "line", "type": "quantitative", "axis": null}, "text": {"field": "lab"}}}
  ]}
 ]}
]
}
